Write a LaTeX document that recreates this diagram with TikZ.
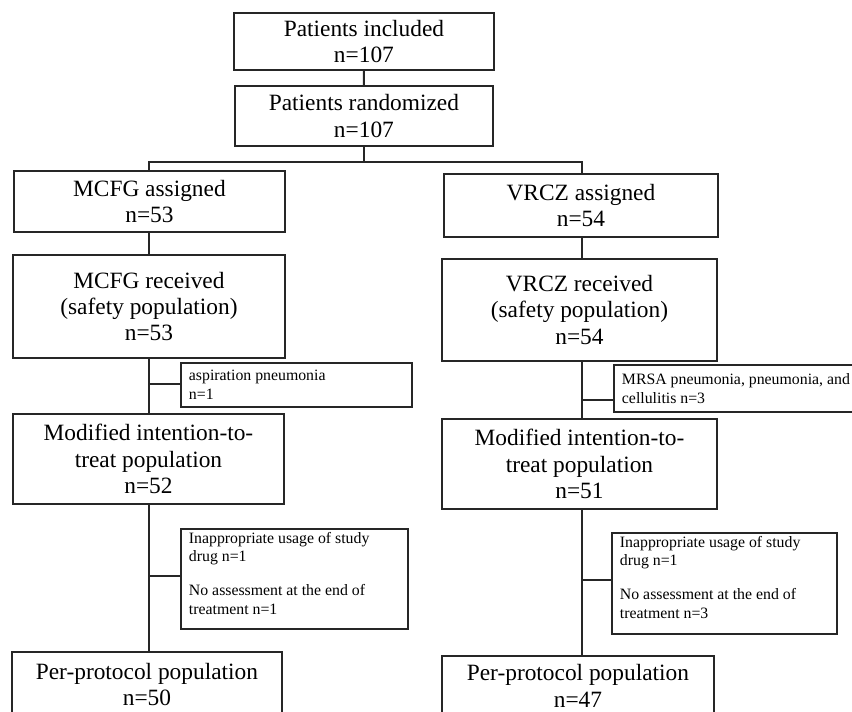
\documentclass[tikz,border=0pt]{standalone}
\usepackage{fontspec}
\setmainfont{Liberation Serif}
\usepackage{tikz}

\begin{document}
\begin{tikzpicture}[x=0.02cm, y=-0.02cm,
    box/.style={draw=black!85, line width=1.1pt, anchor=north west,
        align=center, inner sep=2pt, font=\fontsize{13.3}{15}\selectfont},
    sidebox/.style={draw=black!85, line width=1.1pt, anchor=north west,
        inner xsep=0.16cm, inner ysep=0.06cm, font=\fontsize{9}{10.5}\selectfont},
    link/.style={draw=black!85, line width=1.1pt}]

        \useasboundingbox (0,0) rectangle (852,711);
        \clip (0,0) rectangle (852,711);

        %% ── Inclusion et randomisation ──────────────────────────────────
        \node[box, minimum width=5.2cm, minimum height=1.14cm] (inc) at (233,12)
            {Patients included\\n=107};
        \node[box, minimum width=5.16cm, minimum height=1.2cm] (rand) at (234,85)
            {Patients randomized\\n=107};

        %% ── Bras MCFG ───────────────────────────────────────────────────
        \node[box, minimum width=5.42cm, minimum height=1.22cm] (mcfgA) at (13,170)
            {MCFG assigned\\n=53};
        \node[box, minimum width=5.44cm, minimum height=2.06cm] (mcfgR) at (12,254)
            {MCFG received\\(safety population)\\n=53};
        \node[box, minimum width=5.42cm, minimum height=1.8cm] (mcfgM) at (12,413)
            {Modified intention-to-\\treat population\\n=52};
        \node[box, minimum width=5.4cm, minimum height=1.3cm] (mcfgP) at (11,651)
            {Per-protocol population\\n=50};

        \node[sidebox] (mcfgX1) at (180,362)
            {\parbox[t][0.76cm][c]{4.3cm}{aspiration pneumonia\\n=1}};
        \node[sidebox] (mcfgX2) at (180,528)
            {\parbox[t][1.88cm][t]{4.22cm}{Inappropriate usage of study\\drug n=1\\[9pt]
             No assessment at the end of\\treatment n=1}};

        %% ── Bras VRCZ ───────────────────────────────────────────────────
        \node[box, minimum width=5.48cm, minimum height=1.26cm] (vrczA) at (443,173)
            {VRCZ assigned\\n=54};
        \node[box, minimum width=5.5cm, minimum height=2.04cm] (vrczR) at (441,258)
            {VRCZ received\\(safety population)\\n=54};
        \node[box, minimum width=5.5cm, minimum height=1.8cm] (vrczM) at (441,418)
            {Modified intention-to-\\treat population\\n=51};
        \node[box, minimum width=5.44cm, minimum height=1.2cm] (vrczP) at (441,655)
            {Per-protocol population\\n=47};

        \node[sidebox] (vrczX1) at (613,364)
            {\parbox[t][0.82cm][c]{5.02cm}{MRSA pneumonia, pneumonia, and\\cellulitis n=3}};
        \node[sidebox] (vrczX2) at (611,532)
            {\parbox[t][1.9cm][t]{4.18cm}{Inappropriate usage of study\\drug n=1\\[9pt]
             No assessment at the end of\\treatment n=3}};

        %% ── Liaisons ────────────────────────────────────────────────────
        \coordinate (colL) at (149,162);
        \coordinate (colR) at (582,162);
        \coordinate (brL1) at (149,384);
        \coordinate (brL2) at (149,576);
        \coordinate (brR1) at (582,400);
        \coordinate (brR2) at (582,580);

        \draw[link] (inc.south) -- (rand.north);
        \draw[link] (rand.south) -- (rand.south |- colL);
        \draw[link] (mcfgA.north -| colL) -- (colL) -- (colR) -- (vrczA.north -| colR);

        \draw[link] (mcfgA.south -| colL) -- (mcfgR.north -| colL);
        \draw[link] (mcfgR.south -| colL) -- (mcfgM.north -| colL);
        \draw[link] (mcfgM.south -| colL) -- (mcfgP.north -| colL);
        \draw[link] (brL1) -- (brL1 -| mcfgX1.west);
        \draw[link] (brL2) -- (brL2 -| mcfgX2.west);

        \draw[link] (vrczA.south -| colR) -- (vrczR.north -| colR);
        \draw[link] (vrczR.south -| colR) -- (vrczM.north -| colR);
        \draw[link] (vrczM.south -| colR) -- (vrczP.north -| colR);
        \draw[link] (brR1) -- (brR1 -| vrczX1.west);
        \draw[link] (brR2) -- (brR2 -| vrczX2.west);

\end{tikzpicture}
\end{document}
